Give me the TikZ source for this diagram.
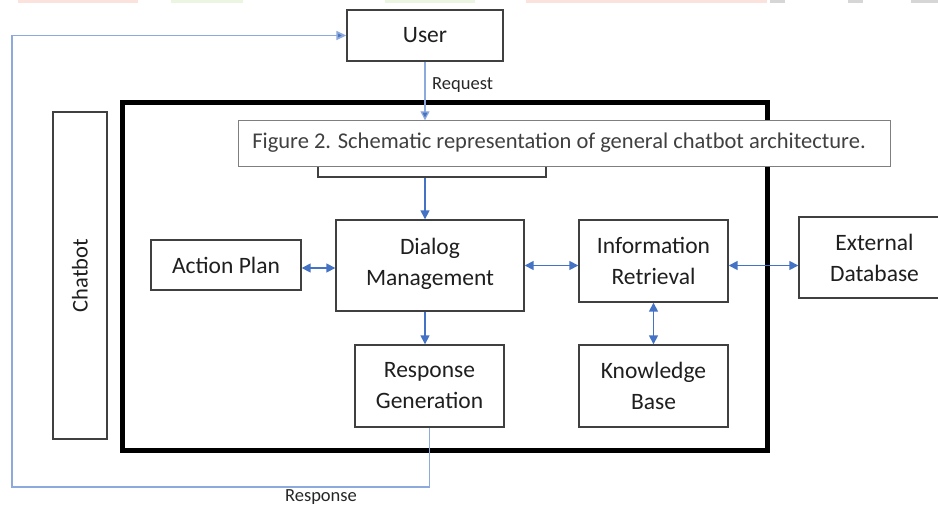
\documentclass[tikz,border=0pt]{standalone}
\usepackage{fontspec}
\setmainfont{Carlito}
\usetikzlibrary{arrows.meta,calc}
\definecolor{arrowblue}{HTML}{4472C4}
\definecolor{lineblue}{HTML}{8EA9DB}
\definecolor{boxgray}{HTML}{404040}
\definecolor{capgray}{HTML}{7F7F7F}
\definecolor{stripred}{HTML}{FBE2DC}
\definecolor{stripgreen}{HTML}{EBF5E1}
\definecolor{stripgray}{HTML}{D6D6D6}
\begin{document}
\begin{tikzpicture}[x=1pt,y=-1pt,
  box/.style={draw=boxgray, line width=1.4pt, fill=white, inner sep=0pt, align=center,
    font=\fontsize{23.5}{31}\selectfont, text=black!88},
  link/.style={draw=arrowblue, line width=1.6pt, -{Triangle[length=9pt,width=9pt]}},
  duplex/.style={draw=arrowblue, line width=1.6pt, {Triangle[length=9pt,width=9pt]}-{Triangle[length=9pt,width=9pt]}},
  loopline/.style={draw=lineblue, line width=1.7pt},
  lbl/.style={font=\fontsize{18.5}{22}\selectfont, text=black!85, inner sep=0pt},
]
\useasboundingbox (0,0) rectangle (938,506);
% faint top strips
\fill[stripred] (18,0) rectangle (138,3);
\fill[stripgreen] (171,0) rectangle (243,3);
\fill[stripgreen] (385,0) rectangle (475,3);
\fill[stripred] (526,0) rectangle (767,3);
\fill[stripgray] (770,0) rectangle (785,3);
\fill[stripgray] (848,0) rectangle (863,3);
\fill[stripgray] (911,0) rectangle (938,3);

% chatbot frame
\draw[line width=5pt] (122.5,102.5) rectangle (767.5,450);

% nodes
\node[box, minimum width=156pt, minimum height=51pt] (user) at (425,35.5) {User};
\node[box, minimum width=54pt, minimum height=327pt, font=\fontsize{22.5}{30}\selectfont] (chat) at (80,275.5) {\rotatebox{90}{Chatbot}};
\node[box, minimum width=228pt, minimum height=56pt] (nlu) at (432,149) {};
\node[box, minimum width=188pt, minimum height=91pt] (dm) at (430,265.5) {Dialog\\Management\\[-23pt]};
\node[box, minimum width=150pt, minimum height=50pt] (ap) at (226,265) {Action Plan};
\node[box, minimum width=149pt, minimum height=82pt] (ir) at (653.5,261) {Information\\Retrieval};
\node[box, minimum width=151pt, minimum height=81pt] (ed) at (874.5,257.5) {External\\Database};
\node[box, minimum width=149pt, minimum height=82pt] (kb) at (653.5,386) {Knowledge\\Base};
\node[box, minimum width=149pt, minimum height=82pt] (rg) at (429.5,386) {Response\\Generation};
\coordinate (lc) at (12,487);

% connectors
\draw[draw=lineblue, line width=1.2pt, -{Triangle[length=9pt,width=9pt,fill=arrowblue]}] (user.south) -- (user.south |- nlu.north);
\draw[link] (user.south |- nlu.south) -- (user.south |- dm.north);
\draw[duplex] ($(ap.east)+(0,3)$) -- ($(dm.west)+(0,2.5)$);
\draw[duplex] (dm.east) -- (ir.west |- dm.east);
\draw[duplex] (ir.east |- dm.east) -- (ed.west |- dm.east);
\draw[duplex] (ir.south) -- (kb.north);
\draw[link] (user.south |- dm.south) -- (user.south |- rg.north);
\draw[loopline, -{Triangle[length=10pt,width=9pt,fill=arrowblue]}] (rg.south) |- (lc) |- (user.west);

% caption
\node[draw=capgray, line width=1pt, fill=white, minimum width=652pt, minimum height=46pt,
  inner sep=0pt, font=\fontsize{22.5}{26}\selectfont, text=black!75] (cap) at (564,143)
  {\hspace*{-10pt}Figure 2. Schematic representation of general chatbot architecture.};

% labels
\node[lbl, anchor=west] (req) at (432,85) {Request};
\node[lbl] (resp) at (321,497) {Response};
\end{tikzpicture}
\end{document}
